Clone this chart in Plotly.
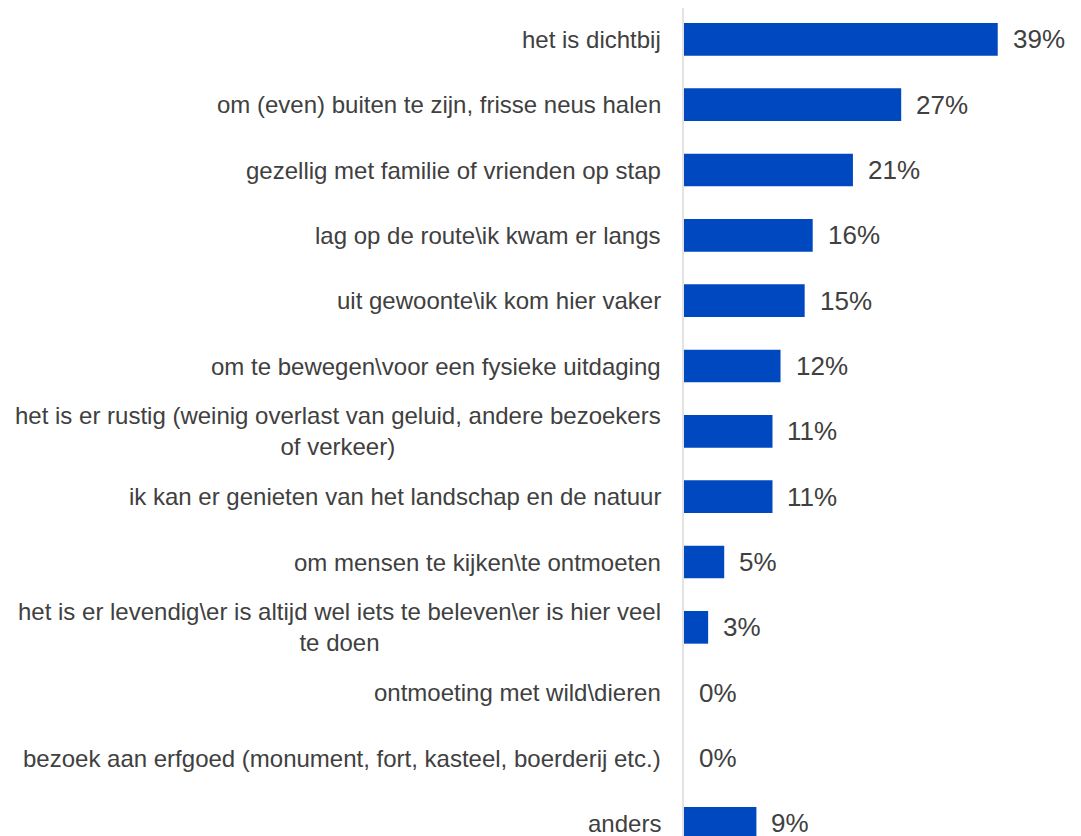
import plotly.graph_objects as go

categories = [
    "het is dichtbij",
    "om (even) buiten te zijn, frisse neus halen",
    "gezellig met familie of vrienden op stap",
    "lag op de route\\ik kwam er langs",
    "uit gewoonte\\ik kom hier vaker",
    "om te bewegen\\voor een fysieke uitdaging",
    "het is er rustig (weinig overlast van geluid, andere bezoekers<br>of verkeer)",
    "ik kan er genieten van het landschap en de natuur",
    "om mensen te kijken\\te ontmoeten",
    "het is er levendig\\er is altijd wel iets te beleven\\er is hier veel<br>te doen",
    "ontmoeting met wild\\dieren",
    "bezoek aan erfgoed (monument, fort, kasteel, boerderij etc.)",
    "anders",
]
values = [39, 27, 21, 16, 15, 12, 11, 11, 5, 3, 0, 0, 9]
value_labels = [f"{v}%" for v in values]

FONT = "Arial, 'Liberation Sans', sans-serif"
TEXT_COLOR = "#404040"
BAR_COLOR = "#0048C0"

fig = go.Figure()
fig.add_trace(go.Bar(
    x=values,
    y=categories,
    orientation="h",
    marker=dict(color=BAR_COLOR, line=dict(width=0)),
    hoverinfo="skip",
))

annotations = []
for cat, v, lab in zip(categories, values, value_labels):
    annotations.append(dict(
        x=0, xref="paper", y=cat, yref="y",
        xanchor="right", yanchor="middle", xshift=-21,
        text=cat, align="center", showarrow=False,
        font=dict(family=FONT, size=24, color=TEXT_COLOR),
    ))
    annotations.append(dict(
        x=v, xref="x", y=cat, yref="y",
        xanchor="left", yanchor="middle", xshift=13,
        text=lab, showarrow=False,
        font=dict(family=FONT, size=26, color=TEXT_COLOR),
    ))

fig.update_layout(
    width=1073, height=828,
    margin=dict(l=676, r=35, t=0, b=0),
    paper_bgcolor="white", plot_bgcolor="white",
    bargap=0.5,
    showlegend=False,
    annotations=annotations,
    xaxis=dict(range=[0, 45], visible=False, fixedrange=True),
    yaxis=dict(
        categoryorder="array", categoryarray=categories,
        range=[12.194, -0.48],
        showticklabels=False, ticks="",
        showgrid=False, zeroline=False,
        showline=True, linecolor="#e3e3e3", linewidth=1.5,
        fixedrange=True,
    ),
)

fig.write_html("out.html")
